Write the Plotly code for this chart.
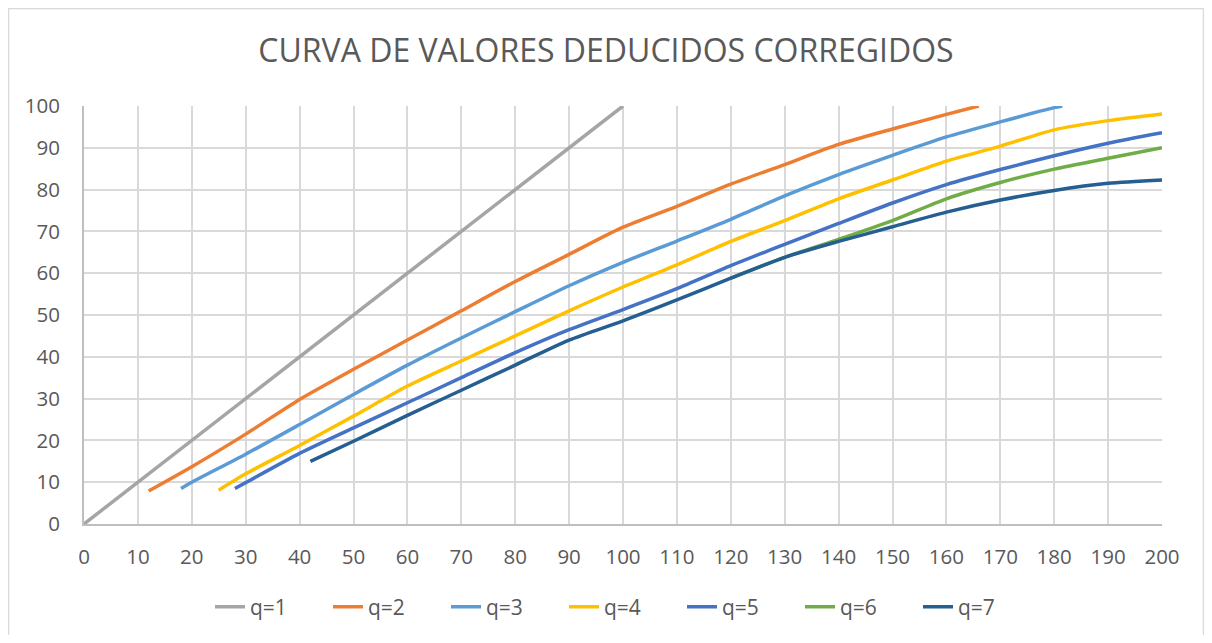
import plotly.graph_objects as go

title = "CURVA DE VALORES DEDUCIDOS CORREGIDOS"
names = ["q=1", "q=2", "q=3", "q=4", "q=5", "q=6", "q=7"]
colors = ["#A5A5A5", "#ED7D31", "#5B9BD5", "#FFC000", "#4472C4", "#70AD47", "#255E91"]

q1_x = [0, 100]
q1_y = [0, 100]

q2_x = [12, 20, 30, 40, 50, 60, 70, 80, 90, 100, 110, 120, 130, 140, 150, 160, 166]
q2_y = [7.9, 13.7, 21.5, 29.8, 37, 44, 51, 58, 64.5, 71, 76, 81.3, 86, 90.8, 94.5, 98, 100]

q3_x = [18, 20, 30, 40, 50, 60, 70, 80, 90, 100, 110, 120, 130, 140, 150, 160, 170, 180, 181.5]
q3_y = [8.5, 10, 16.7, 23.8, 31, 38, 44.5, 50.8, 57, 62.6, 67.7, 72.9, 78.5, 83.6, 88.2, 92.6, 96.2, 99.6, 100]

q4_x = [25, 30, 40, 50, 60, 70, 80, 90, 100, 110, 120, 130, 140, 150, 160, 170, 180, 190, 200]
q4_y = [8.1, 12, 18.8, 25.8, 33, 39, 45, 51, 56.7, 62, 67.6, 72.6, 77.8, 82.3, 86.8, 90.4, 94.3, 96.5, 98.1]

q5_x = [28, 30, 40, 50, 60, 70, 80, 90, 100, 110, 120, 130, 140, 150, 160, 170, 180, 190, 200]
q5_y = [8.5, 9.9, 16.9, 23, 29, 35, 41, 46.5, 51.3, 56.3, 61.8, 66.9, 71.9, 76.8, 81.2, 84.8, 88.1, 91.1, 93.6]

q6_x = [120, 130, 140, 150, 160, 170, 180, 190, 200]
q6_y = [58.8, 63.8, 68.1, 72.6, 77.8, 81.7, 84.9, 87.5, 90.0]

q7_x = [42, 50, 60, 70, 80, 90, 100, 110, 120, 130, 140, 150, 160, 170, 180, 190, 200]
q7_y = [15, 19.8, 26, 32, 38, 44, 48.6, 53.6, 58.8, 63.8, 67.6, 71.1, 74.6, 77.5, 79.8, 81.5, 82.3]

xs = [q1_x, q2_x, q3_x, q4_x, q5_x, q6_x, q7_x]
ys = [q1_y, q2_y, q3_y, q4_y, q5_y, q6_y, q7_y]

fig = go.Figure()
for n, c, x, y in zip(names, colors, xs, ys):
    fig.add_trace(go.Scatter(x=x, y=y, name=n, mode="lines",
                             line=dict(color=c, width=3.5, shape="spline", smoothing=0.7)))

font = "Open Sans, Liberation Sans, sans-serif"
# page body has an 8px margin; figure sized to fit inside it
W, H = 1196, 627
L, R, T, B = 76, 42, 98, 111
pw, ph = W - L - R, H - T - B

fig.update_layout(
    width=W, height=H,
    margin=dict(l=L, r=R, t=T, b=B, autoexpand=False),
    paper_bgcolor="white", plot_bgcolor="white",
    title=dict(text=title, x=0.5, xanchor="center", y=1 - 43 / H, yanchor="middle",
               font=dict(family=font, size=32, color="#595959")),
    font=dict(family=font, color="#595959", size=20),
    legend=dict(orientation="h", x=0.5, xanchor="center", y=-83 / ph, yanchor="middle",
                font=dict(size=21, color="#595959"), traceorder="normal",
                entrywidth=73, entrywidthmode="pixels"),
    showlegend=True,
)
fig.update_xaxes(range=[0, 200], dtick=10, tick0=0, showgrid=True, gridcolor="#D9D9D9", gridwidth=1.5,
                 showline=True, linecolor="#BFBFBF", linewidth=2, zeroline=False, ticks="",
                 tickfont=dict(size=20.5, color="#595959"), ticklabelstandoff=13)
fig.update_yaxes(range=[0, 100], dtick=10, tick0=0, showgrid=True, gridcolor="#D9D9D9", gridwidth=1.5,
                 showline=True, linecolor="#BFBFBF", linewidth=2, zeroline=False, ticks="",
                 tickfont=dict(size=20.5, color="#595959"), ticklabelstandoff=18)
fig.add_shape(type="rect", xref="paper", yref="paper",
              x0=(0.5 - L) / pw, x1=(W - 0.5 - L) / pw, y0=-(B + 20) / ph, y1=1 + (T - 0.5) / ph,
              line=dict(color="#D9D9D9", width=1.5), fillcolor="rgba(0,0,0,0)", layer="below")
fig.write_html("out.html")
